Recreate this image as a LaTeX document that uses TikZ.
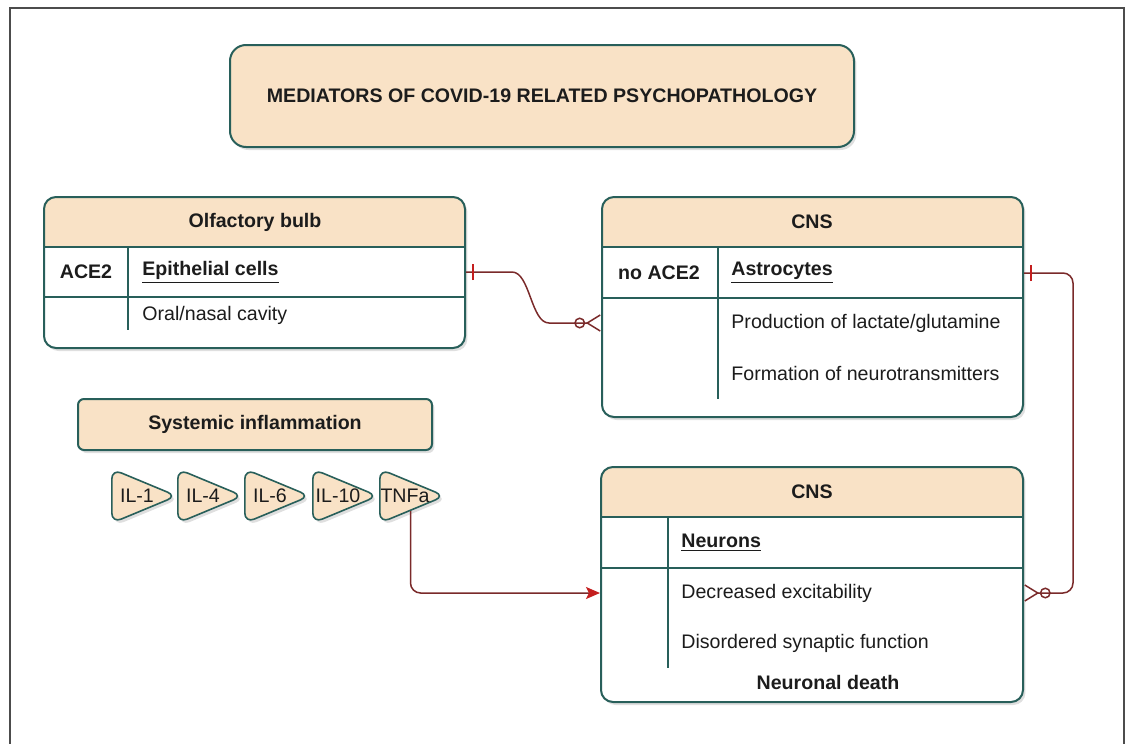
\documentclass[tikz,border=0pt]{standalone}
\usepackage{fontspec}
\setmainfont{Liberation Sans}
\usepackage{xcolor}
\usetikzlibrary{arrows.meta,positioning,shapes.geometric,calc,shadows,decorations.markings}
\definecolor{tanfill}{HTML}{F9E2C6}
\definecolor{edge}{HTML}{285F5A}
\definecolor{linkred}{HTML}{7A2A2A}
\definecolor{tipred}{HTML}{C41E1E}
\definecolor{ink}{HTML}{1C1C1C}
\tikzset{
  txt/.style={font=\fontsize{9.8}{11}\selectfont, text=ink, inner sep=0pt},
  keytxt/.style={txt, font=\fontsize{9.8}{11}\selectfont\bfseries},
  softshadow/.style={drop shadow={shadow xshift=1.2pt, shadow yshift=-1.5pt,
                     opacity=0.25, fill=black!50}},
  titlebox/.style={draw=edge, line width=1pt, fill=tanfill, rounded corners=8pt, softshadow},
  headbox/.style={draw=edge, line width=1pt, fill=tanfill, rounded corners=3pt, softshadow},
  ertable/.style={draw=edge, line width=1pt, fill=white, rounded corners=6pt, softshadow,
     path picture={\fill[tanfill, sharp corners] (path picture bounding box.north west)
                   rectangle ([yshift=-25pt]path picture bounding box.north east);}},
  rule/.style={draw=edge, line width=0.9pt},
  cyto/.style={isosceles triangle, isosceles triangle stretches, shape border rotate=0,
               minimum width=27pt, minimum height=32.5pt, inner sep=0pt, draw=edge,
               line width=0.8pt, fill=tanfill, rounded corners=5pt, softshadow,
               anchor=lower side},
  link/.style={draw=linkred, line width=0.75pt, rounded corners=5pt},
  one/.style={postaction={decorate, decoration={markings, mark=at position 3.5pt with
              {\draw[-, sharp corners, tipred, line width=0.8pt] (0,-4pt) -- (0,4pt);}}}},
  many/.style={-{Circle[open, length=5.5pt, width=5.5pt, sep=0.3pt]Straight Barb[reversed, length=6.5pt, width=8pt]}},
  push/.style={-{Stealth[length=7pt, width=6pt, inset=1.5pt, color=tipred]}},
  pageframe/.style={draw=black!70, line width=1pt},
}

\begin{document}
\begin{tikzpicture}[x=0.5pt, y=-0.5pt]
  \useasboundingbox (0,0) rectangle (1130,744);
  \draw[pageframe] (9.5,744) |- (1124,8) -- (1124,744);

  % heading
  \node[titlebox, minimum width=312pt, minimum height=51pt, keytxt] (title) at (542,96)
    {MEDIATORS OF COVID-19 RELATED PSYCHOPATHOLOGY};

  % entity tables
  \node[ertable, minimum width=210.5pt, minimum height=75.5pt] (olf) at (254.5,272.5) {};
  \node[ertable, minimum width=210.5pt, minimum height=110pt] (cnsa) at (812.5,307) {};
  \node[ertable, minimum width=211pt, minimum height=117.5pt] (cnsb) at (812,584.5) {};
  \draw[rule] (44,247) -- (465,247) (44,297) -- (465,297) (128,247) -- (128,330);
  \draw[rule] (602,247) -- (1023,247) (602,298) -- (1023,298) (718,247) -- (718,399);
  \draw[rule] (601,517) -- (1023,517) (601,568) -- (1023,568) (668,517) -- (668,668);

  \node[keytxt] (olfhead) at (255,222) {Olfactory bulb};
  \node[keytxt] (olfkey) at (86,272) {ACE2};
  \node[keytxt, anchor=west] (epi) at (142,272) {\underline{Epithelial cells}};
  \node[txt, anchor=west] (oral) at (142,315) {Oral/nasal cavity};

  \node[keytxt] (cnsahead) at (812,222) {CNS};
  \node[keytxt] (noace) at (659,273) {no ACE2};
  \node[keytxt, anchor=west] (astro) at (731,273) {\underline{Astrocytes}};
  \node[txt, anchor=west] (prod) at (731,323) {Production of lactate/glutamine};
  \node[txt, anchor=west] (form) at (731,373) {Formation of neurotransmitters};

  \node[keytxt] (cnsbhead) at (812,492) {CNS};
  \node[keytxt, anchor=west] (neur) at (681,543) {\underline{Neurons}};
  \node[txt, anchor=west] (decr) at (681,593) {Decreased excitability};
  \node[txt, anchor=west] (disord) at (681,643) {Disordered synaptic function};
  \node[keytxt] (death) at (828,682) {Neuronal death};

  % cytokines
  \node[headbox, minimum width=177pt, minimum height=25.5pt, keytxt] (sys) at (255,424.5)
    {Systemic inflammation};
  \foreach \x/\lab [count=\k] in {111/IL-1, 177/IL-4, 244/IL-6, 312/IL-10, 379/TNFa}{
    \node[cyto] (il\k) at (\x,496) {};
    \node[txt] (il\k txt) at ([xshift=13pt]il\k.lower side) {\lab};
  }

  % relations
  \draw[link, one, many] (olf.east |- epi) -- ++(36,0)
    .. controls +(28,0) and +(-28,0) .. ++(57,51) -- (cnsa.west |- prod);
  \draw[link, one, many] (cnsa.east |- astro) -- ++(49,0) |- (cnsb.east |- decr);
  \draw[link, push] (il5.-50) |- (cnsb.west |- decr);
\end{tikzpicture}
\end{document}
